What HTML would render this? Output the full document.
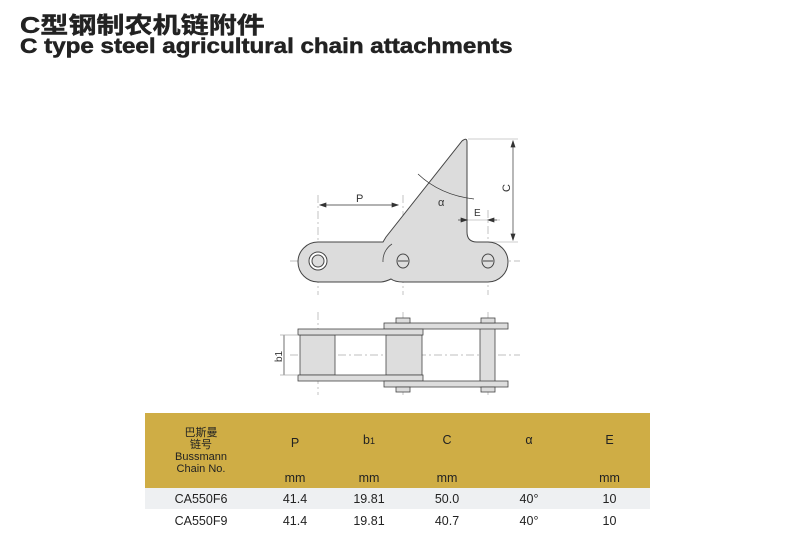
<!DOCTYPE html>
<html><head><meta charset="utf-8"><style>
body{margin:0;width:800px;height:535px;background:#fff;font-family:"Liberation Sans","Noto Sans CJK SC",sans-serif;position:relative;overflow:hidden}
.t1{position:absolute;left:20px;top:6px;font-size:23px;font-weight:bold;color:#222;transform:scaleX(1.22);transform-origin:left top;-webkit-text-stroke:0.4px #222}
.t2{position:absolute;left:20px;top:35px;font-size:21px;font-weight:bold;color:#222;transform:scaleX(1.15);transform-origin:left top;-webkit-text-stroke:0.5px #222}
table{position:absolute;left:145px;top:413px;width:505px;border-collapse:collapse;font-size:12.5px;color:#222;table-layout:fixed}
td{text-align:center;padding:0}
.h td{background:#cfad45}
.r1 td{background:#eef0f2;height:21px}
.r2 td{height:23px}
</style></head><body>
<div class="t1">C型钢制农机链附件</div>
<div class="t2">C type steel agricultural chain attachments</div>
<svg width="800" height="410" style="position:absolute;left:0;top:0" font-family="Liberation Sans">
<g stroke="#aaa" stroke-width="0.7" stroke-dasharray="8 3 2 3" fill="none">
<line x1="290" y1="261" x2="520" y2="261"/>
<line x1="318" y1="195" x2="318" y2="295"/><line x1="403" y1="195" x2="403" y2="295"/><line x1="488" y1="210" x2="488" y2="295"/>
<line x1="290" y1="355" x2="520" y2="355"/>
<line x1="318" y1="312" x2="318" y2="395"/><line x1="403" y1="312" x2="403" y2="395"/><line x1="488" y1="312" x2="488" y2="395"/>
</g>
<path d="M468,139 L518,139 M472,242 L518,242 M462,220 L500,220" stroke="#999" stroke-width="0.6"/>
<path d="M298,262 A20,20 0 0 1 318,242 L383,242 L386,237 L462,141 Q467,137 467,142 L467,232 Q467,242 477,242 L488,242 A20,20 0 0 1 488,282 L403,282 Q395,282 391,279 Q385,282 380,282 L318,282 A20,20 0 0 1 298,262 Z" fill="#dcdcdc" stroke="#444" stroke-width="1"/>
<path d="M383,262 A20,20 0 0 1 392,244" stroke="#444" fill="none" stroke-width="0.8"/>
<circle cx="318" cy="261" r="9" fill="#fff" stroke="#444"/><circle cx="318" cy="261" r="6" fill="#ddd" stroke="#444"/>
<ellipse cx="403" cy="261" rx="6" ry="7" fill="#ddd" stroke="#444"/><line x1="398" y1="261" x2="408" y2="261" stroke="#444"/>
<ellipse cx="488" cy="261" rx="6" ry="7" fill="#ddd" stroke="#444"/><line x1="483" y1="261" x2="493" y2="261" stroke="#444"/>
<g stroke="#333" stroke-width="0.7" fill="none">
<line x1="320" y1="205" x2="398" y2="205"/><path d="M320,205 l6,-2 v4z M398,205 l-6,-2 v4z" fill="#333"/>
<line x1="513" y1="141" x2="513" y2="240"/><path d="M513,141 l-2,6 h4z M513,240 l-2,-6 h4z" fill="#333"/>
<line x1="458" y1="220" x2="467" y2="220"/><line x1="488" y1="220" x2="497" y2="220"/>
<path d="M467,220 l-6,-2 v4z M488,220 l6,-2 v4z" fill="#333"/>
<path d="M418,174 Q440,195 474,199"/>
</g>
<text x="356" y="202" font-size="11" fill="#333">P</text>
<text x="438" y="206" font-size="11" fill="#333">α</text>
<text x="474" y="216" font-size="10" fill="#333">E</text>
<text x="510" y="192" font-size="11" fill="#333" transform="rotate(-90 510 192)">C</text>
<g fill="#ddd" stroke="#444" stroke-width="0.8">
<rect x="300" y="335" width="35" height="40"/><rect x="386" y="335" width="36" height="40"/>
<rect x="480" y="323" width="15" height="64"/>
<rect x="384" y="323" width="124" height="6"/><rect x="298" y="329" width="125" height="6"/>
<rect x="298" y="375" width="125" height="6"/><rect x="384" y="381" width="124" height="6"/>
<rect x="396" y="318" width="14" height="5"/><rect x="396" y="387" width="14" height="5"/>
<rect x="481" y="318" width="14" height="5"/><rect x="481" y="387" width="14" height="5"/>
</g>
<g stroke="#333" stroke-width="0.7"><line x1="284" y1="335" x2="284" y2="375"/><line x1="280" y1="335" x2="298" y2="335" stroke="#aaa"/><line x1="280" y1="375" x2="298" y2="375" stroke="#aaa"/></g>
<text x="282" y="362" font-size="10" fill="#333" transform="rotate(-90 282 362)">b1</text>
</svg>
<table>
<colgroup><col style="width:112px"><col style="width:76px"><col style="width:72px"><col style="width:84px"><col style="width:80px"><col style="width:81px"></colgroup>
<tr class="h"><td rowspan="2" style="height:69px;font-size:11px;line-height:12px">巴斯曼<br>链号<br>Bussmann<br>Chain No.</td>
<td style="height:48px;padding-top:6px">P</td><td>b<span style="font-size:9px">1</span></td><td>C</td><td>α</td><td>E</td></tr>
<tr class="h"><td style="height:21px">mm</td><td>mm</td><td>mm</td><td></td><td>mm</td></tr>
<tr class="r1"><td>CA550F6</td><td>41.4</td><td>19.81</td><td>50.0</td><td>40°</td><td>10</td></tr>
<tr class="r2"><td>CA550F9</td><td>41.4</td><td>19.81</td><td>40.7</td><td>40°</td><td>10</td></tr>
</table>
</body></html>
